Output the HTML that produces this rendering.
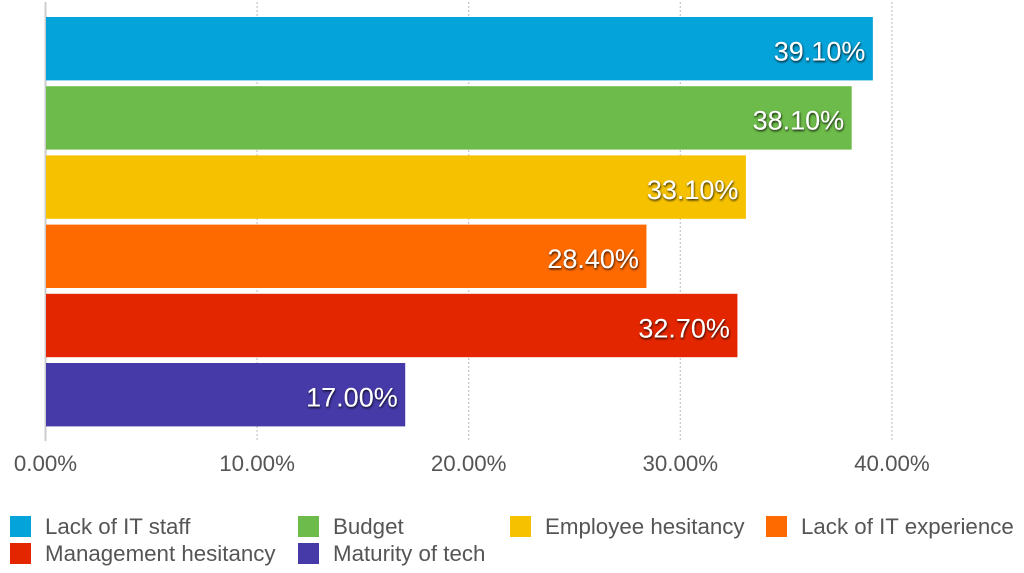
<!DOCTYPE html>
<html lang="en">
<head>
<meta charset="utf-8">
<title>Barriers bar chart</title>
<style>
html,body{margin:0;padding:0;background:#fff;width:1024px;height:573px;overflow:hidden}
svg{display:block;font-family:"Liberation Sans",Arial,sans-serif}
.tick{font-size:22.3px;fill:#555}
.legend{font-size:22.3px;fill:#555}
.val{font-size:27px;fill:#fff;filter:url(#shadow)}
</style>
</head>
<body>
<svg id="chart" width="1024" height="573" viewBox="0 0 1024 573" xmlns="http://www.w3.org/2000/svg">
<defs>
<filter id="shadow" x="-10%" y="-20%" width="120%" height="150%">
<feDropShadow dx="0.6" dy="1.4" stdDeviation="1" flood-color="#000" flood-opacity="0.85"/>
</filter>
</defs>
</svg>
<script>
const categories = ['Lack of IT staff','Budget','Employee hesitancy','Lack of IT experience','Management hesitancy','Maturity of tech'];
const values = [39.1,38.1,33.1,28.4,32.7,17.0];
const colors = ['#04a3d9','#6dbb4a','#f6c200','#ff6a00','#e42600','#453aa8'];
const ticks = [0,10,20,30,40];

const svg = document.getElementById('chart');
const NS = 'http://www.w3.org/2000/svg';
const x = v => 45.5 + v * 21.16;
const bandTop = i => 17 + i * 69.2;
const barH = 63.4;

function mk(tag, attrs, parent, text) {
  const el = document.createElementNS(NS, tag);
  for (const k in attrs) el.setAttribute(k, attrs[k]);
  if (text !== undefined) el.textContent = text;
  (parent || svg).appendChild(el);
  return el;
}

ticks.forEach(t => {
  const line = mk('line', {x1:x(t), x2:x(t), y1:2, y2:441,
    stroke: t === 0 ? '#cccccc' : '#c4c4c4',
    'stroke-width': t === 0 ? 2 : 1.2,
    'stroke-dasharray': t === 0 ? 'none' : '2 2'});
  
  
  const label = mk('text', {x:x(t), y:471, 'text-anchor':'middle', class:'tick'}, svg, t.toFixed(2) + '%');
  
  
});

values.forEach((v, i) => {
  const bar = mk('rect', {x:x(0) + 0.5, y:bandTop(i), width:x(v) - x(0) - 0.5, height:barH, fill:colors[i]});
  
  
  const lab = mk('text', {x:x(v) - 7.5, y:bandTop(i) + 43.5, 'text-anchor':'end', class:'val'}, svg, v.toFixed(2) + '%');
  
  
});

const legendCols = [10, 298, 510, 766];
const legendRows = [516, 543];
categories.forEach((c, i) => {
  const col = legendCols[i % 4];
  const row = legendRows[Math.floor(i / 4)];
  const sw = mk('rect', {x:col, y:row, width:21, height:21, fill:colors[i]});
  
  
  const t = mk('text', {x:col + 35, y:row + 18, class:'legend'}, svg, c);
  
  
});
</script>
</body>
</html>
